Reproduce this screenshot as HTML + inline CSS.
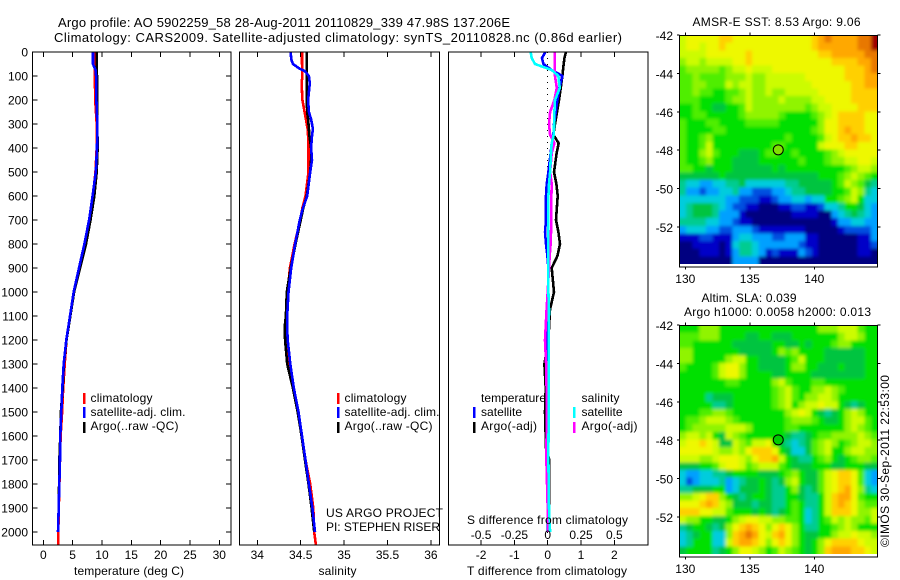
<!DOCTYPE html>
<html lang="en">
<head>
<meta charset="utf-8">
<title>Argo profile 5902259_58</title>
<style>
html,body{margin:0;padding:0;background:#fff;width:900px;height:580px;overflow:hidden}
svg{display:block}
text{font-family:"Liberation Sans",sans-serif;font-size:12px;fill:#000}
</style>
</head>
<body>
<svg id="chart" width="900" height="580" viewBox="0 0 900 580" xmlns="http://www.w3.org/2000/svg">
  <defs>
    <filter id="cell-soften" x="-5%" y="-5%" width="110%" height="110%"><feGaussianBlur stdDeviation="1.6"/></filter>
    <clipPath id="clip-sst"><rect x="679.5" y="35" width="198" height="229"/></clipPath>
    <clipPath id="clip-sla"><rect x="679.5" y="325" width="198" height="229"/></clipPath>
  </defs>
  <rect width="900" height="580" fill="#fff"/>
  <text x="58" y="27" style="font-size:13px" textLength="452">Argo profile: AO 5902259_58 28-Aug-2011 20110829_339 47.98S 137.206E</text>
  <text x="54" y="42" style="font-size:13px" textLength="568">Climatology: CARS2009. Satellite-adjusted climatology: synTS_20110828.nc (0.86d earlier)</text>
  <g id="maps"></g>
  <g id="profiles"></g>

  <text x="74" y="575" textLength="110">temperature (deg C)</text>
  <text x="318.5" y="575" textLength="38">salinity</text>
  <text x="467" y="524" textLength="161">S difference from climatology</text>
  <text x="467" y="575" textLength="160">T difference from climatology</text>

  <g>
    <rect x="83" y="393" width="2.5" height="11" fill="#f00"/>
    <rect x="83" y="407" width="2.5" height="11" fill="#00f"/>
    <rect x="83" y="422" width="2.5" height="11" fill="#000"/>
    <text x="90.5" y="402" textLength="62">climatology</text>
    <text x="90.5" y="416" textLength="95">satellite-adj. clim.</text>
    <text x="90.5" y="430" textLength="88">Argo(..raw -QC)</text>
  </g>
  <g>
    <rect x="337" y="393" width="2.5" height="11" fill="#f00"/>
    <rect x="337" y="407" width="2.5" height="11" fill="#00f"/>
    <rect x="337" y="422" width="2.5" height="11" fill="#000"/>
    <text x="344.5" y="402" textLength="62">climatology</text>
    <text x="344.5" y="416" textLength="95">satellite-adj. clim.</text>
    <text x="344.5" y="430" textLength="88">Argo(..raw -QC)</text>
  </g>
  <text x="326" y="517" textLength="117">US ARGO PROJECT</text>
  <text x="326" y="531" textLength="114">PI: STEPHEN RISER</text>
  <g>
    <text x="481" y="402" textLength="65">temperature</text>
    <text x="481" y="416" textLength="41">satellite</text>
    <text x="481" y="430" textLength="56">Argo(-adj)</text>
    <rect x="473" y="407" width="2.5" height="11" fill="#00f"/>
    <rect x="473" y="422" width="2.5" height="11" fill="#000"/>
    <text x="581.5" y="402" textLength="38">salinity</text>
    <text x="581.5" y="416" textLength="41">satellite</text>
    <text x="581.5" y="430" textLength="56">Argo(-adj)</text>
    <rect x="573" y="407" width="2.5" height="11" fill="#0ff"/>
    <rect x="573" y="422" width="2.5" height="11" fill="#f0f"/>
  </g>

  <text x="692.5" y="26" textLength="168">AMSR-E SST: 8.53 Argo: 9.06</text>
  <text x="701.5" y="302" textLength="95">Altim. SLA: 0.039</text>
  <text x="684" y="316" textLength="187">Argo h1000: 0.0058 h2000: 0.013</text>
  <text transform="translate(889 547) rotate(-90)" textLength="172">©IMOS 30-Sep-2011 22:53:00</text>
</svg>
<script>
// ---- profile data ----
const tempTicks = [0, 5, 10, 15, 20, 25, 30];
const salTicks = [34, 34.5, 35, 35.5, 36];
const tDiffTicks = [-2, -1, 0, 1, 2];
const sDiffTicks = [-0.5, -0.25, 0, 0.25, 0.5];
const sDiffLabels = ['-0.5', '-0.25', '0', '0.25', '0.5'];
const depthTicks = [0,100,200,300,400,500,600,700,800,900,1000,1100,1200,1300,1400,1500,1600,1700,1800,1900,2000];

const tempDepths = [0,50,75,100,200,300,400,500,600,700,800,900,1000,1100,1200,1300,1400,1500,1600,1700,1800,1900,2000];
const tempClim = [8.75,8.75,8.8,8.8,8.85,9.1,9.1,8.9,8.45,7.8,7.0,6.1,5.2,4.55,3.95,3.65,3.4,3.2,2.95,2.85,2.75,2.65,2.55];
const tempArgo = [9.1,9.1,9.1,9.15,9.15,9.2,9.25,9.1,8.7,8.05,7.28,6.25,5.25,4.6,3.95,3.5,3.3,3.0,2.9,2.75,2.7,2.62,2.5];
const tempSat = [8.47,8.47,8.9,9.0,9.05,9.2,9.15,8.95,8.4,7.8,7.0,6.08,5.18,4.55,3.92,3.48,3.24,3.07,2.9,2.85,2.73,2.62,2.5];
const climTailDepths = [2000, 2054];
const tempClimTail = [2.55, 2.55];
const salClimTail = [34.655, 34.675];

const salDepths = [0,30,50,70,80,100,130,200,250,280,320,350,400,450,500,600,650,700,800,900,1000,1100,1150,1200,1300,1400,1500,1600,1700,1800,1900,2000];
const salClim = [34.515,34.515,34.515,34.52,34.52,34.52,34.51,34.52,34.545,34.56,34.58,34.585,34.59,34.59,34.59,34.555,34.52,34.495,34.43,34.375,34.35,34.34,34.34,34.34,34.375,34.42,34.47,34.515,34.555,34.61,34.645,34.655];
const salArgo = [34.57,34.57,34.57,34.57,34.57,34.57,34.57,34.57,34.575,34.585,34.595,34.6,34.62,34.62,34.61,34.57,34.53,34.5,34.44,34.385,34.34,34.33,34.315,34.32,34.345,34.41,34.465,34.51,34.55,34.59,34.625,34.655];
const salSat = [34.385,34.39,34.41,34.49,34.55,34.595,34.605,34.585,34.595,34.62,34.64,34.63,34.62,34.63,34.61,34.575,34.525,34.49,34.435,34.39,34.36,34.345,34.345,34.35,34.38,34.42,34.475,34.515,34.555,34.595,34.635,34.665];

const diffDepths = [0,25,50,75,100,150,200,250,300,345,380,420,500,550,600,700,750,800,850,900,1000,1073,1200,1300,1400,1500,1650,1700,1900,2000];
const diffTArgo = [0.55,0.5,0.48,0.46,0.44,0.39,0.34,0.28,0.22,0.17,0.33,0.27,0.19,0.26,0.30,0.25,0.32,0.37,0.29,0.12,0.19,0.07,0.02,-0.10,-0.06,-0.08,-0.05,0.05,0.05,0];
const diffTSat = [-0.07,-0.17,-0.13,0.12,0.44,0.35,0.29,0.24,0.19,0.17,0.12,0.09,0.02,-0.03,-0.05,-0.05,-0.08,-0.05,-0.01,0.02,0.02,0,0,-0.02,-0.02,-0.03,-0.02,0,0,0.01];
const diffSSat = [-0.128,-0.12,-0.095,0.03,0.08,0.09,0.055,0.05,0.048,0.045,0.03,0.025,0.018,0.01,0.005,0.005,0.005,0.005,0.005,0.005,0.005,0.01,0.008,0.008,0.008,0.008,0.005,0.005,0.01,0.018];
const diffSArgo = [0.052,0.052,0.052,0.054,0.055,0.068,0.05,0.018,0.01,0.018,0.05,0.03,0.018,0.03,0.028,0.028,0.025,0.022,0.015,0.01,0,-0.008,-0.02,-0.012,-0.008,-0.005,-0.01,-0.01,0,0.005];

// ---- map data: one hex digit per cell, north to south ----
const mapLonTicks = [130, 135, 140];
const mapLatTicks = [-42, -44, -46, -48, -50, -52];
const sstGrid = [
"abbbbbccbbbbbbbbbbbbcdeddddeef",
"abbabbcbbbbbbbbbbbbbcddddddeef",
"aaaabbbbbbcbbbbbbbbbbccdddddee",
"9aa9aaaabbcbbbbbbbbbbbbccccdde",
"89999989aabaaabbbbbbbbbbbcccde",
"8898888999a99aaaaaabbbbbbcccdd",
"8899888a9aa99aaaaaaabbbbbbccdd",
"8898877889a99a99aaaaabbbbbcccc",
"8887777899a9999a9999aabbbbcccc",
"7787766778a9999999989aabbbbccc",
"7788777778999998777789abccccbb",
"8777887777888887777779bbccccbb",
"8777788777777777777789bbcdccbb",
"8778977777777777877778abccdccb",
"8778a7777777778877777abbbccbbb",
"8779a8777666788778777789abbbbb",
"8778977766667777778777899aabba",
"887767776666667677777777789aa9",
"66666676666666666666677789a987",
"5443344556444444556666678a9865",
"53323344533222334556666778a954",
"44444443322211233443447789a744",
"456665432211000112211244577643",
"456665333100000001111003456543",
"555544332110000000000001334433",
"344433223332111111100000122223",
"111221113443332233311000000113",
"001111014554333333211000000112",
"000111013554312111321000000110",
"000000003333000000000000000000"
];
const slaGrid = [
"777999777777777777777999aaa877",
"8889997777667766677777779aa977",
"887777776666667766767778997777",
"997777777666667989777766666677",
"99777779aa77666678a77766666677",
"877778abb977666679977666766677",
"777778abb977776677776666666677",
"777777788777779a87778877777777",
"7777777777777789a87799a9877777",
"7777566677777789a8799aa9777777",
"7777755677777789a79aabaa765677",
"77788998777777779aba765679a977",
"7889aaa9877777778999876679aa87",
"7899999aaa9777778877777779a987",
"9aa9a76a9877777765567889999a98",
"abbcba66a98aab76545689a9789aa9",
"bbbbba99a9bcccb7644689a779aa99",
"aaa99abbba9bccda76557897678998",
"666778abba89aaa876667776677766",
"4334455677776667897668abccb843",
"42344453456676569a7668abccb843",
"5566677346667655796568abcdb954",
"99abcc9765677655776557acddb877",
"bbbcdca966656655787557acdcb988",
"cccbbaa877767656787457acccb99a",
"a99776679abbaa998874578a9a998a",
"56776569bcdcb9bcb97557789a9777",
"45677449cdedbacdb9766779aabaa9",
"4577744acddcb9bcb97679bccccbaa",
"677775679bba978a987679cdddccba"
];

// ---- scales ----
const NS = 'http://www.w3.org/2000/svg';
const panelTop = 52, panelBottom = 545;
const yDepth = d => panelTop + d * 0.24;
const xTemp = t => 43.3 + t * 5.867;
const xSal = s => 257.3 + (s - 34) * 86.8;
const xDT = d => 547.7 + d * 33.3;
const xDS = d => 547.7 + d * 133.2;
const xLon = lon => 685.3 + (lon - 130) * 12.9;
const yLat = (lat, top) => top + (-42 - lat) * 19.2;
const cellColors = ['#000080','#0000c8','#0050e0','#00a0ff','#00ccdd','#00cc90','#00c440','#00e000','#50ee00','#90f400','#ccfc00','#eef800','#ffd000','#ffa800','#e87800','#a00000'];

function make(tag, attrs, parent, text) {
  const el = document.createElementNS(NS, tag);
  for (const k in attrs) el.setAttribute(k, attrs[k]);
  if (text !== undefined) el.textContent = text;
  parent.appendChild(el);
  return el;
}
function line(parent, x1, y1, x2, y2, name) {
  const el = make('line', {x1, y1, x2, y2, stroke:'#000', 'stroke-width':1, 'shape-rendering':'crispEdges'}, parent);
  
  
  return el;
}
function label(parent, x, y, anchor, str, name) {
  const el = make('text', {x, y, 'text-anchor':anchor}, parent, str);
  
  
  return el;
}
function series(parent, xs, depths, xFn, color, name) {
  const pts = xs.map((v, i) => xFn(v).toFixed(1) + ',' + yDepth(depths[i]).toFixed(1)).join(' ');
  const el = make('polyline', {points: pts, fill:'none', stroke: color, 'stroke-width':2.6, 'stroke-linejoin':'round', 'shape-rendering':'crispEdges'}, parent);
  
  
  return el;
}
function panelBox(parent, x, w, name) {
  const el = make('rect', {x, y: panelTop, width: w, height: panelBottom - panelTop, fill:'none', stroke:'#000', 'stroke-width':1, 'shape-rendering':'crispEdges'}, parent);
  
  
  return el;
}

// ---- profile panels ----
const profiles = document.getElementById('profiles');

series(profiles, tempClimTail, climTailDepths, xTemp, '#f00', 'temperature-climatology-tail');
series(profiles, tempClim, tempDepths, xTemp, '#f00', 'temperature-climatology-line');
series(profiles, tempArgo, tempDepths, xTemp, '#000', 'temperature-argo-line');
series(profiles, tempSat, tempDepths, xTemp, '#00f', 'temperature-satellite-line');
panelBox(profiles, 32.5, 198.5, 'temperature-panel');
depthTicks.forEach(d => {
  line(profiles, 32.5, yDepth(d), 37.5, yDepth(d), 'depth-tick-left');
  line(profiles, 226, yDepth(d), 231, yDepth(d), 'depth-tick-right');
  label(profiles, 28, yDepth(d) + 4.5, 'end', String(d), 'depth-tick-label');
});
tempTicks.forEach(t => {
  line(profiles, xTemp(t), panelTop, xTemp(t), panelTop + 5, 'temperature-tick-top');
  line(profiles, xTemp(t), panelBottom - 5, xTemp(t), panelBottom, 'temperature-tick-bottom');
  label(profiles, xTemp(t), 559, 'middle', String(t), 'temperature-tick-label');
});

series(profiles, salClimTail, climTailDepths, xSal, '#f00', 'salinity-climatology-tail');
series(profiles, salClim, salDepths, xSal, '#f00', 'salinity-climatology-line');
series(profiles, salArgo, salDepths, xSal, '#000', 'salinity-argo-line');
series(profiles, salSat, salDepths, xSal, '#00f', 'salinity-satellite-line');
panelBox(profiles, 239.5, 200, 'salinity-panel');
salTicks.forEach(s => {
  line(profiles, xSal(s), panelTop, xSal(s), panelTop + 5, 'salinity-tick-top');
  line(profiles, xSal(s), panelBottom - 5, xSal(s), panelBottom, 'salinity-tick-bottom');
  label(profiles, xSal(s), 559, 'middle', String(s), 'salinity-tick-label');
});

const zeroLine = make('line', {x1: xDT(0), y1: panelTop, x2: xDT(0), y2: panelBottom, stroke:'#000', 'stroke-width':1, 'stroke-dasharray':'1 5', 'shape-rendering':'crispEdges'}, profiles);


series(profiles, diffTArgo, diffDepths, xDT, '#000', 'difference-t-argo-line');
series(profiles, diffTSat, diffDepths, xDT, '#00f', 'difference-t-satellite-line');
series(profiles, diffSArgo, diffDepths, xDS, '#f0f', 'difference-s-argo-line');
series(profiles, diffSSat, diffDepths, xDS, '#0ff', 'difference-s-satellite-line');
panelBox(profiles, 448.5, 199.5, 'difference-panel');
tDiffTicks.forEach(t => {
  if (t !== 0) line(profiles, xDT(t), panelTop, xDT(t), panelTop + 5, 'difference-tick-top');
  line(profiles, xDT(t), panelBottom - 5, xDT(t), panelBottom, 'difference-tick-bottom');
  label(profiles, xDT(t), 559, 'middle', String(t), 't-difference-tick-label');
});
sDiffTicks.forEach((s, i) => {
  label(profiles, xDS(s), 539, 'middle', sDiffLabels[i], 's-difference-tick-label');
});

// ---- maps ----
const maps = document.getElementById('maps');
function drawMap(grid, top, name, markerFill, clipId) {
  const left = 679.5, width = 198, imgH = 229, boxH = 231.7, bleed = 6;
  const g = make('g', {}, maps);
  
  
  const clipped = make('g', {'clip-path': 'url(#' + clipId + ')'}, g);
  
  
  const soft = make('g', {filter: 'url(#cell-soften)'}, clipped);
  
  
  const rowH = imgH / grid.length;
  grid.forEach((row, r) => {
    const cw = width / row.length;
    for (let c = 0; c < row.length; c++) {
      const x0 = left + c * cw - (c === 0 ? bleed : 0);
      const x1 = left + (c + 1) * cw + (c === row.length - 1 ? bleed : 0.3);
      const y0 = top + r * rowH - (r === 0 ? bleed : 0);
      const y1 = top + (r + 1) * rowH + (r === grid.length - 1 ? bleed : 0.3);
      const cell = make('rect', {x: x0.toFixed(2), y: y0.toFixed(2), width: (x1 - x0).toFixed(2), height: (y1 - y0).toFixed(2), fill: cellColors[parseInt(row[c], 16)], 'shape-rendering':'crispEdges'}, soft);
      
      
    }
  });
  const frame = make('rect', {x: left, y: top + 0.5, width: width, height: boxH, fill:'none', stroke:'#000', 'stroke-width':1, 'shape-rendering':'crispEdges'}, g);
  
  
  mapLatTicks.forEach(lat => {
    const y = yLat(lat, top);
    line(g, left - 2.5, y, left, y, 'latitude-tick-left');
    line(g, left + width, y, left + width + 3, y, 'latitude-tick-right');
    label(g, 673, y + 5, 'end', String(lat), 'latitude-tick-label');
  });
  mapLonTicks.forEach(lon => {
    line(g, xLon(lon), top - 2.5, xLon(lon), top, 'longitude-tick-top');
    line(g, xLon(lon), top + boxH, xLon(lon), top + boxH + 3, 'longitude-tick-bottom');
    label(g, xLon(lon), top + 248, 'middle', String(lon), 'longitude-tick-label');
  });
  const marker = make('circle', {cx: xLon(137.206), cy: yLat(-47.98, top), r: 5, fill: markerFill, stroke:'#000', 'stroke-width':1}, g);
  
  
}
drawMap(sstGrid, 35, 'sst-map', '#80e000', 'clip-sst');
drawMap(slaGrid, 325, 'sla-map', '#00cc00', 'clip-sla');
</script>
</body>
</html>
